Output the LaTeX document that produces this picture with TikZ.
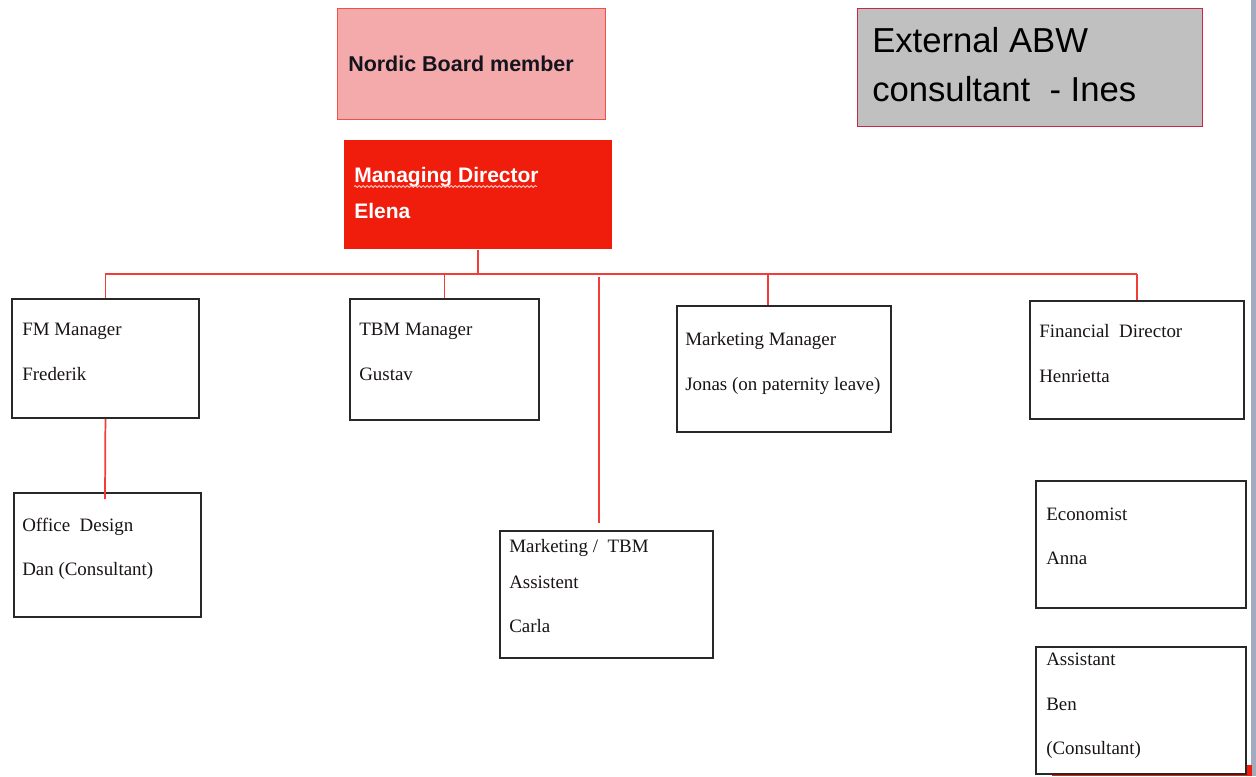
\documentclass[tikz,border=0pt]{standalone}
\usepackage{fontspec}
\setmainfont{Liberation Serif}
\newfontfamily\arialfont{Liberation Sans}
\usepackage{tikz}
\usetikzlibrary{decorations.pathmorphing}

\tikzset{
  box/.style={draw={rgb, 255:red, 40; green, 40; blue, 40 }, line width=1.4pt, fill=white, anchor=north west, inner sep=0pt},
  link/.style={draw={rgb, 255:red, 242; green, 60; blue, 55 }, line width=1.3pt},
  txt/.style={anchor=north west, inner sep=0pt, align=left, text={rgb, 255:red, 25; green, 20; blue, 20 }, font=\fontsize{14.2pt}{33.4pt}\selectfont},
}

\begin{document}
\begin{tikzpicture}[x=0.75pt,y=0.75pt,yscale=-1,xscale=1]
\useasboundingbox (0,0) rectangle (1256,776);

%Shape: window edge and red strip
\fill [fill={rgb, 255:red, 160; green, 172; blue, 190 }] (1251,0) rectangle (1256,776);
\fill [fill={rgb, 255:red, 240; green, 28; blue, 12 }] (1052,765) rectangle (1252,776);

%Shape: Rectangle [nordic]
\node (nordic) [box, draw={rgb, 255:red, 240; green, 80; blue, 70 }, fill={rgb, 255:red, 244; green, 170; blue, 170 }, line width=1.1pt, minimum width=201pt, minimum height=83.25pt] at (337,8) {};
% Text Node
\node (nordicT) [anchor=base west, inner sep=0pt, text={rgb, 255:red, 20; green, 20; blue, 30 }, font=\arialfont\bfseries\fontsize{16.1pt}{19pt}\selectfont] at (348,71.7) {Nordic Board member};

%Shape: Rectangle [external]
\node (ext) [box, draw={rgb, 255:red, 200; green, 40; blue, 72 }, fill={rgb, 255:red, 192; green, 192; blue, 192 }, line width=1.1pt, minimum width=258.75pt, minimum height=88.5pt] at (857,8) {};
% Text Node
\node (extT) [txt, text=black, font=\arialfont\fontsize{26pt}{36.5pt}\selectfont] at (872,27.5) {External ABW\\consultant\ \ - Ines};

%Shape: Rectangle [managing director]
\node (md) [box, draw=none, fill={rgb, 255:red, 240; green, 28; blue, 12 }, minimum width=201pt, minimum height=81.75pt] at (343,139) {};
% Text Node
\node (mdT) [txt, text=white, font=\arialfont\bfseries\fontsize{15.75pt}{27.5pt}\selectfont] at (354,166.7) {Managing Director\\Elena};
\draw [draw={rgb, 255:red, 252; green, 205; blue, 200 }, line width=0.6pt, decorate, decoration={snake, amplitude=0.7pt, segment length=3pt}] (354,186.5) -- (537,186.5);

%Shape: Rectangles [managers]
\node (fm) [box, minimum width=140.25pt, minimum height=89.25pt] at (11,298) {};
\node (tbm) [box, minimum width=141.75pt, minimum height=90.75pt] at (349,298) {};
\node (mkt) [box, minimum width=160.5pt, minimum height=94.5pt] at (676,305) {};
\node (fin) [box, minimum width=160.5pt, minimum height=88.5pt] at (1029,300) {};

%Shape: Rectangles [staff]
\node (office) [box, minimum width=140.25pt, minimum height=93pt] at (13,492) {};
\node (carla) [box, minimum width=159.75pt, minimum height=95.25pt] at (499,530) {};
\node (econ) [box, minimum width=157.5pt, minimum height=95.25pt] at (1035,480) {};
\node (ben) [box, minimum width=157.5pt, minimum height=95.25pt] at (1035,646) {};

% Text Node
\node (fmT) [txt] at (22,323.3) {FM Manager\\Frederik};
% Text Node
\node (tbmT) [txt] at (359,323.3) {TBM Manager\\Gustav};
% Text Node
\node (mktT) [txt] at (685,332.5) {Marketing Manager\\Jonas (on paternity leave)};
% Text Node
\node (finT) [txt] at (1039,324.4) {Financial\ \ Director\\Henrietta};
% Text Node
\node (officeT) [txt] at (22,517.4) {Office\ \ Design\\Dan (Consultant)};
% Text Node
\node (carlaT) [txt] at (509,539) {Marketing /\ \ TBM\\[-6.7pt]Assistent\\Carla};
% Text Node
\node (econT) [txt] at (1046,507.5) {Economist\\Anna};
% Text Node
\node (benT) [txt] at (1046,653) {Assistant\\Ben\\(Consultant)};

%Straight Lines [org links]
\coordinate (busL) at (105,274);
\coordinate (busR) at (1137,274);
\coordinate (mktStem) at (768,305);
\coordinate (carlaTop) at (599,277);
\coordinate (carlaEnd) at (599,523);
\coordinate (officeIn) at (105,499);
\draw [link] (busL) -- (busR);
\draw [link] (md.south) -- (md.south |- busL);
\draw [link] (fm.north |- busL) -- (fm.north);
\draw [link] (tbm.north |- busL) -- (tbm.north);
\draw [link] (mktStem |- busL) -- (mktStem);
\draw [link] (fin.north |- busL) -- (fin.north);
\draw [link] (carlaTop) -- (carlaEnd);
\draw [link] (fm.south) -- (officeIn);

\end{tikzpicture}
\end{document}
